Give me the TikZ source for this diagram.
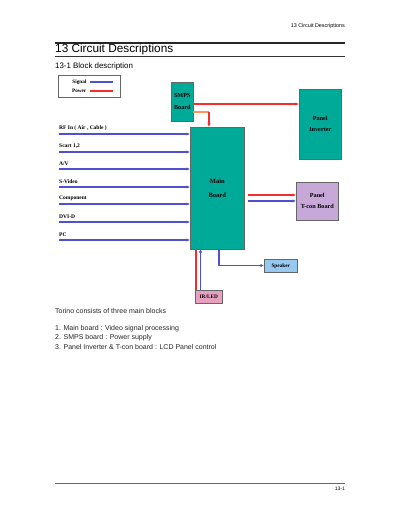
\documentclass[tikz,border=0pt]{standalone}
\usepackage{fontspec}
\setmainfont{Liberation Sans}
\newfontfamily\serifb{Liberation Serif}
\usetikzlibrary{arrows.meta}
\definecolor{teal1}{RGB}{0,170,153}
\definecolor{sig}{RGB}{80,80,210}
\definecolor{pow}{RGB}{245,45,45}
\definecolor{orng}{RGB}{245,150,90}
\definecolor{lilac}{RGB}{200,168,216}
\definecolor{pink1}{RGB}{232,160,192}
\definecolor{lblue}{RGB}{150,200,240}
\tikzset{
  blk/.style={draw=black!60, line width=0.6pt, inner sep=0pt, font=\serifb\bfseries\fontsize{6.2}{10}\selectfont, align=center},
  lbl/.style={anchor=south west, inner sep=0pt, font=\serifb\bfseries\fontsize{5.5}{6}\selectfont},
  sigl/.style={draw=sig, line width=1.3pt, -{Latex[length=3.5pt,width=3.5pt]}},
  powl/.style={draw=pow, line width=1.3pt, -{Latex[length=3.5pt,width=3.5pt]}},
  body/.style={anchor=west, inner sep=0pt, font=\fontsize{7}{8}\selectfont, text=black!85}
}
\begin{document}
\begin{tikzpicture}[x=1pt,y=-1pt]
\useasboundingbox[fill=white] (0,0) rectangle (400,518);
% header
\node[anchor=east, inner sep=0pt, font=\fontsize{5.4}{6}\selectfont] (hdr) at (345,26) {13 Circuit Descriptions};
\draw[line width=1.6pt, black!85] (55,43) -- (345,43);
\node[anchor=west, inner sep=0pt, font=\fontsize{11.8}{13}\selectfont] (title) at (55,49.5) {13 Circuit Descriptions};
\draw[line width=0.8pt, black!80] (55,56) -- (345,56);
\node[anchor=west, inner sep=0pt, font=\fontsize{7.9}{9}\selectfont] (sub) at (55,66) {13-1 Block description};
% legend
\node[draw=black!60, line width=0.6pt, minimum width=62pt, minimum height=22pt, anchor=north west] (leg) at (58,75) {};
\node[anchor=east, inner sep=0pt, font=\serifb\bfseries\fontsize{5.2}{6}\selectfont] (ls) at (86.5,82) {Signal};
\node[anchor=east, inner sep=0pt, font=\serifb\bfseries\fontsize{5.2}{6}\selectfont] (lp) at (86.5,91) {Power};
\coordinate (ls1) at (90,82); \coordinate (ls2) at (113,82);
\coordinate (lp1) at (90,91); \coordinate (lp2) at (113,91);
\draw[sig, line width=1.3pt] (ls1) -- (ls2);
\draw[pow, line width=1.3pt] (lp1) -- (lp2);
% blocks
\node[blk, fill=teal1, minimum width=22pt, minimum height=39pt, anchor=north west] (smps) at (171,82) {SMPS\\[2pt]Board};
\node[blk, fill=teal1, minimum width=42pt, minimum height=70pt, anchor=north west] (inv) at (299,89) {Panel\\[1pt]Inverter};
\node[blk, fill=teal1, minimum width=54pt, minimum height=122pt, anchor=north west] (main) at (190,127) {\fontsize{6.5}{10}\selectfont Main\\[4pt]\fontsize{6.5}{10}\selectfont Board};
\node[blk, fill=lilac, minimum width=42pt, minimum height=38pt, anchor=north west] (tcon) at (296,182) {Panel\\[1pt]T-con Board};
\node[blk, fill=lblue, minimum width=33pt, minimum height=13pt, anchor=north west] (spk) at (264,259) {\fontsize{5.3}{6}\selectfont Speaker};
\node[blk, fill=pink1, minimum width=27pt, minimum height=13pt, anchor=north west] (ir) at (195,290) {\fontsize{5.3}{6}\selectfont IR/LED};
% helper coordinates
\coordinate (sA) at (193,104); \coordinate (iA) at (299,104);
\coordinate (sB) at (193,112); \coordinate (bend) at (209,112); \coordinate (mT) at (209,127);
\coordinate (mR1) at (248,195); \coordinate (tL1) at (296,195);
\coordinate (mR2) at (248,201); \coordinate (tL2) at (296,201);
\coordinate (mS1) at (219,249); \coordinate (kS) at (219,265.5); \coordinate (spW) at (264,265.5);
\coordinate (mS2) at (196,249); \coordinate (irT2) at (196,290);
\coordinate (mS3) at (200.5,249); \coordinate (irT3) at (200.5,290);
% SMPS connections
\draw[powl] (sA) -- (iA);
\draw[orng, line width=1.3pt] (sB) -- (bend);
\draw[powl] (bend) -- (mT);
% inputs
\foreach \name/\txt/\y in {rf/{RF In ( Air , Cable )}/134, sc/{Scart 1,2}/152, av/{A/V}/169, sv/{S-Video}/187, cp/{Component}/204, dv/{DVI-D}/222, pc/{PC}/240}{
  \node[lbl] (\name) at (59,\y-3) {\txt};
  \coordinate (\name s) at (59,\y);
  \coordinate (\name e) at (190,\y);
  \draw[sigl] (\name s) -- (\name e);
}
% main to tcon
\draw[powl] (mR1) -- (tL1);
\draw[sigl] (mR2) -- (tL2);
% speaker
\draw[sigl] (mS1) -- (kS) -- (spW);
% IR/LED
\draw[pow, line width=1.5pt] (mS2) -- (irT2);
\draw[sig, line width=1.5pt, -{Latex[length=3.5pt,width=3.5pt]}] (irT3) -- (mS3);
% body text
\node[body] (t0) at (55,311) {Torino consists of three main blocks};
\node[body] (t1) at (55,329) {1. Main board : Video signal processing};
\node[body] (t2) at (55,338) {2. SMPS board : Power supply};
\node[body] (t3) at (55,347) {3. Panel Inverter \& T-con board : LCD Panel control};
% footer
\draw[line width=0.8pt, black!60] (55,483) -- (345,483);
\node[anchor=east, inner sep=0pt, font=\fontsize{5}{6}\selectfont] (ftr) at (345,489) {13-1};
\end{tikzpicture}
\end{document}
